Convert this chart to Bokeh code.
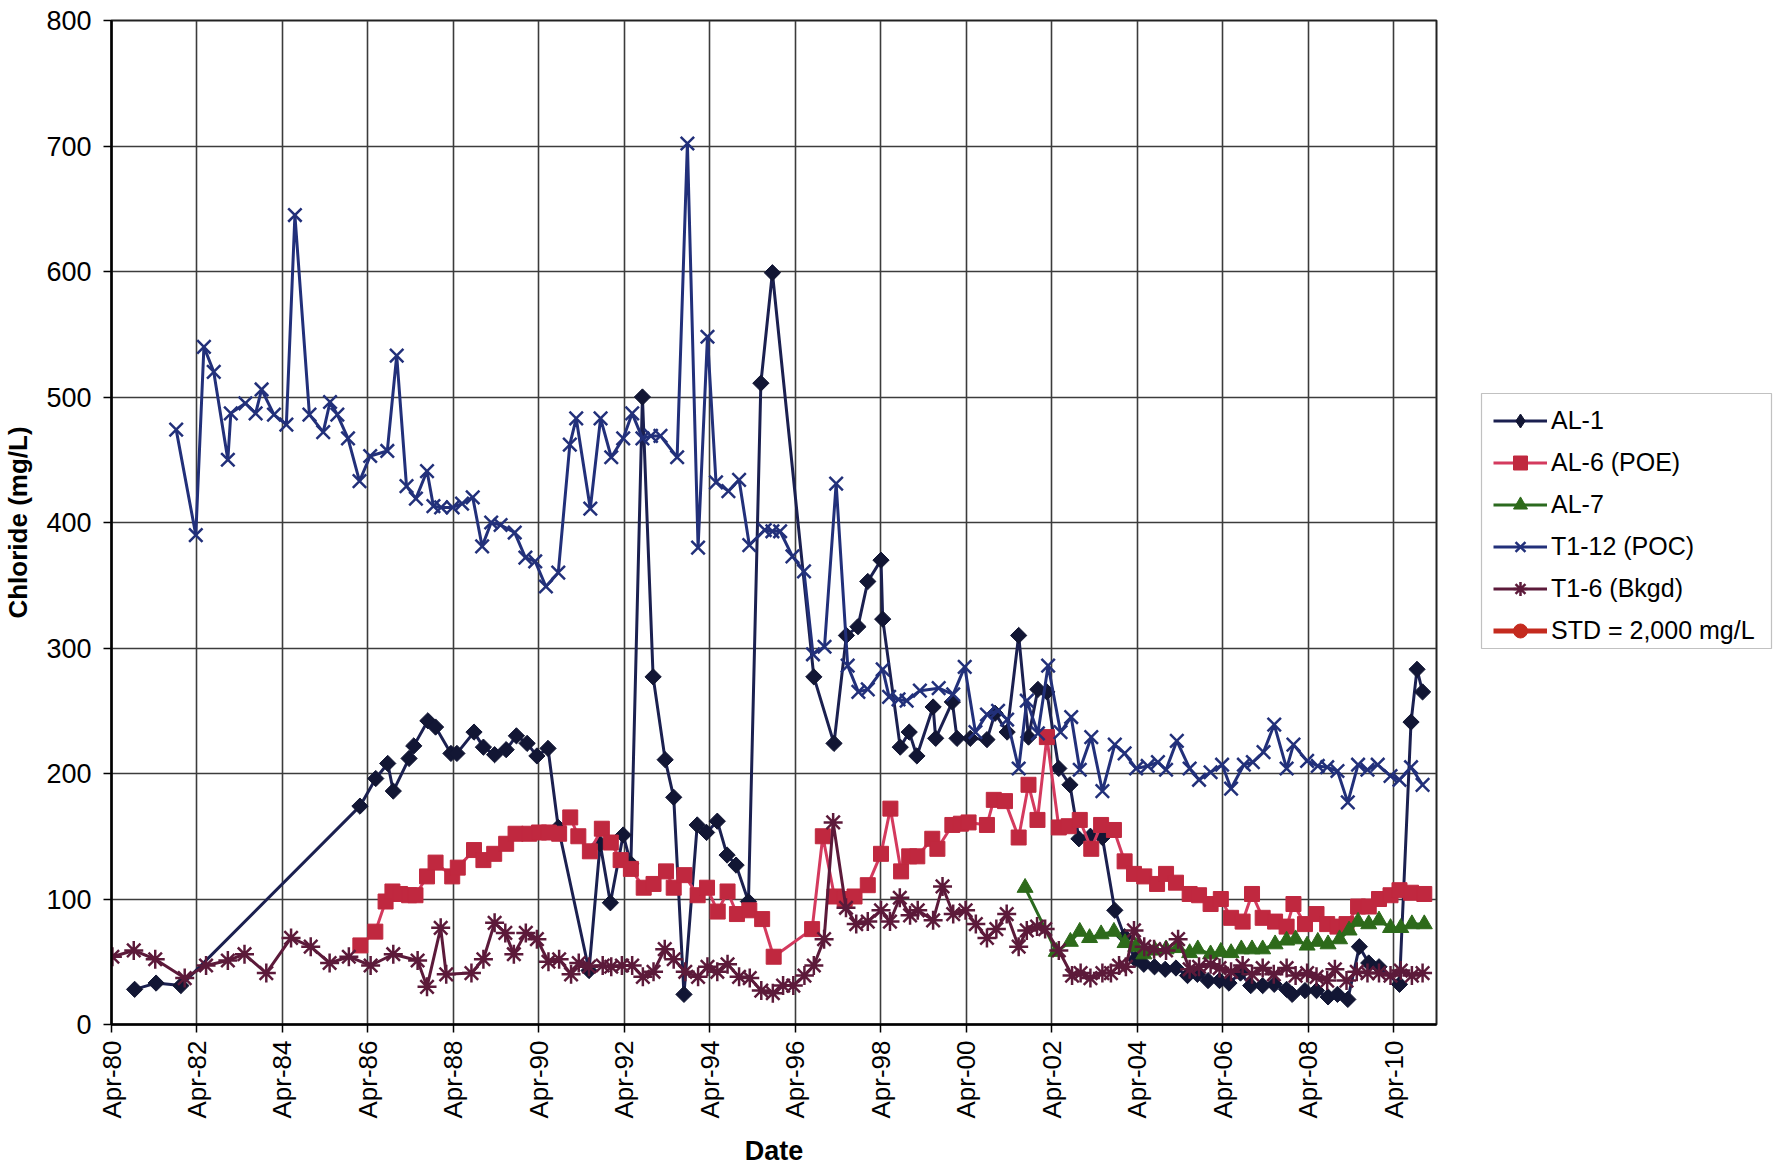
import math
from datetime import datetime, timedelta

from bokeh.plotting import figure
from bokeh.layouts import row
from bokeh.models import (Range1d, FixedTicker, DatetimeTickFormatter, Legend,
                          LegendItem, ColumnDataSource, BoxAnnotation)
from bokeh.embed import file_html
from bokeh.resources import INLINE

# ---- data: sampling date (decimal year) and chloride (mg/L) ----
al1_year = [1980.79, 1981.29, 1981.87, 1986.06, 1986.43, 1986.71, 1986.84, 1987.21,
            1987.32, 1987.65, 1987.83, 1988.19, 1988.33, 1988.73, 1988.95, 1989.21,
            1989.48, 1989.72, 1989.97, 1990.20, 1990.46, 1990.70, 1991.42, 1991.68,
            1991.92, 1992.22, 1992.40, 1992.67, 1992.92, 1993.20, 1993.40, 1993.64,
            1993.95, 1994.17, 1994.42, 1994.65, 1994.86, 1995.15, 1995.44, 1995.71,
            1996.68, 1997.15, 1997.44, 1997.71, 1997.94, 1998.25, 1998.29, 1998.70,
            1998.91, 1999.09, 1999.47, 1999.53, 1999.92, 2000.03, 2000.34, 2000.73,
            2000.92, 2001.20, 2001.47, 2001.70, 2001.92, 2002.13, 2002.41, 2002.67,
            2002.88, 2003.15, 2003.43, 2003.72, 2003.95, 2004.20, 2004.40, 2004.65,
            2004.90, 2005.15, 2005.42, 2005.65, 2005.90, 2006.17, 2006.39, 2006.66,
            2006.90, 2007.18, 2007.45, 2007.74, 2007.87, 2008.17, 2008.44, 2008.71,
            2008.93, 2009.17, 2009.44, 2009.66, 2009.90, 2010.38, 2010.65, 2010.79,
            2010.92]
al1_cl = [28, 33, 31, 174, 196, 208, 186, 212,
          222, 242, 237, 216, 216, 233, 221, 215,
          219, 230, 224, 214, 220, 157, 43, 144,
          97, 151, 128, 500, 277, 211, 181, 24,
          159, 153, 162, 135, 127, 98, 511, 599,
          277, 224, 310, 317, 353, 370, 323, 221,
          233, 214, 253, 228, 257, 228, 228, 227,
          248, 233, 310, 229, 267, 265, 204, 191,
          148, 150, 149, 91, 70, 52, 48, 46,
          44, 45, 39, 40, 35, 35, 33, 41,
          31, 31, 32, 28, 24, 27, 27, 22,
          24, 20, 62, 49, 46, 32, 241, 283,
          265]

al6_year = [1986.07, 1986.42, 1986.66, 1986.82, 1987.00, 1987.21, 1987.36, 1987.63,
            1987.83, 1988.22, 1988.35, 1988.73, 1988.95, 1989.20, 1989.48, 1989.70,
            1990.02, 1990.25, 1990.48, 1990.72, 1990.98, 1991.17, 1991.44, 1991.72,
            1991.93, 1992.16, 1992.40, 1992.70, 1992.93, 1993.22, 1993.40, 1993.65,
            1993.96, 1994.18, 1994.43, 1994.66, 1994.88, 1995.17, 1995.47, 1995.74,
            1996.64, 1996.89, 1997.16, 1997.40, 1997.63, 1997.94, 1998.25, 1998.47,
            1998.72, 1998.91, 1999.10, 1999.45, 1999.57, 1999.92, 2000.12, 2000.30,
            2000.73, 2000.89, 2001.15, 2001.47, 2001.70, 2001.91, 2002.13, 2002.41,
            2002.64, 2002.90, 2003.17, 2003.40, 2003.70, 2003.95, 2004.17, 2004.41,
            2004.71, 2004.92, 2005.15, 2005.47, 2005.69, 2005.96, 2006.20, 2006.44,
            2006.71, 2006.93, 2007.18, 2007.47, 2007.74, 2007.90, 2008.17, 2008.44,
            2008.69, 2008.93, 2009.14, 2009.41, 2009.66, 2009.90, 2010.17, 2010.38,
            2010.65, 2010.96]
al6_cl = [63, 74, 98, 106, 104, 103, 103, 118,
          129, 118, 125, 139, 131, 136, 144, 152,
          152, 153, 153, 152, 165, 150, 138, 156,
          145, 131, 124, 109, 112, 122, 109, 119,
          103, 109, 90, 106, 88, 91, 84, 54,
          76, 150, 102, 100, 102, 111, 136, 172,
          122, 134, 134, 148, 140, 159, 160, 161,
          159, 179, 178, 149, 191, 163, 229, 157,
          158, 163, 140, 159, 155, 130, 120, 118,
          112, 120, 113, 104, 103, 96, 100, 85,
          82, 104, 85, 82, 78, 96, 80, 88,
          80, 78, 80, 94, 94, 100, 103, 107,
          105, 104]

al7_year = [2001.62, 2002.35, 2002.68, 2002.90, 2003.13, 2003.40, 2003.70, 2003.96,
            2004.21, 2004.40, 2004.66, 2004.92, 2005.20, 2005.47, 2005.66, 2005.96,
            2006.20, 2006.44, 2006.68, 2006.93, 2007.18, 2007.47, 2007.74, 2007.95,
            2008.22, 2008.47, 2008.71, 2008.98, 2009.20, 2009.41, 2009.66, 2009.90,
            2010.17, 2010.41, 2010.67, 2010.96]
al7_cl = [109, 58, 66, 74, 69, 72, 74, 65,
          62, 56, 59, 60, 61, 57, 60, 56,
          58, 57, 60, 60, 60, 64, 67, 68,
          63, 66, 64, 68, 75, 82, 80, 83,
          77, 77, 80, 80]

t112_year = [1981.76, 1982.22, 1982.41, 1982.64, 1982.97, 1983.04, 1983.38, 1983.62,
             1983.76, 1984.05, 1984.34, 1984.54, 1984.88, 1985.20, 1985.36, 1985.53,
             1985.78, 1986.05, 1986.30, 1986.70, 1986.92, 1987.15, 1987.37, 1987.63,
             1987.78, 1987.96, 1988.23, 1988.45, 1988.70, 1988.92, 1989.13, 1989.35,
             1989.68, 1989.93, 1990.16, 1990.41, 1990.70, 1990.97, 1991.12, 1991.45,
             1991.69, 1991.94, 1992.22, 1992.43, 1992.67, 1992.87, 1993.09, 1993.48,
             1993.72, 1993.97, 1994.19, 1994.39, 1994.68, 1994.93, 1995.17, 1995.53,
             1995.71, 1995.89, 1996.18, 1996.45, 1996.66, 1996.93, 1997.20, 1997.47,
             1997.72, 1997.94, 1998.29, 1998.44, 1998.66, 1998.85, 1999.16, 1999.60,
             1999.94, 2000.21, 2000.46, 2000.73, 2000.99, 2001.20, 2001.47, 2001.66,
             2001.92, 2002.16, 2002.45, 2002.70, 2002.90, 2003.17, 2003.43, 2003.72,
             2003.95, 2004.22, 2004.49, 2004.73, 2004.92, 2005.17, 2005.47, 2005.69,
             2005.96, 2006.23, 2006.44, 2006.74, 2006.95, 2007.20, 2007.45, 2007.74,
             2007.90, 2008.22, 2008.47, 2008.69, 2008.93, 2009.17, 2009.41, 2009.63,
             2009.87, 2010.17, 2010.38, 2010.65, 2010.92]
t112_cl = [474, 390, 540, 520, 450, 487, 495, 487,
           506, 486, 478, 645, 486, 472, 496, 486,
           467, 433, 453, 457, 533, 429, 419, 441,
           413, 412, 412, 415, 420, 381, 400, 398,
           392, 372, 369, 349, 360, 462, 483, 411,
           483, 452, 467, 487, 467, 469, 469, 452,
           702, 380, 548, 432, 425, 434, 382, 394,
           393, 393, 373, 361, 295, 301, 431, 286,
           265, 267, 283, 261, 259, 258, 266, 268,
           263, 285, 233, 247, 250, 243, 204, 258,
           232, 286, 233, 245, 203, 229, 186, 223,
           216, 204, 206, 209, 203, 226, 204, 195,
           201, 207, 188, 207, 209, 217, 239, 204,
           223, 210, 206, 205, 202, 177, 207, 203,
           207, 198, 195, 205, 191]

t16_year = [1980.27, 1980.77, 1981.27, 1981.96, 1982.46, 1982.97, 1983.36, 1983.87,
            1984.45, 1984.91, 1985.35, 1985.80, 1986.31, 1986.84, 1987.41, 1987.63,
            1987.95, 1988.08, 1988.67, 1988.95, 1989.21, 1989.46, 1989.66, 1989.94,
            1990.20, 1990.47, 1990.72, 1991.00, 1991.18, 1991.42, 1991.74, 1991.94,
            1992.19, 1992.43, 1992.68, 1992.93, 1993.19, 1993.40, 1993.67, 1993.97,
            1994.19, 1994.42, 1994.66, 1994.93, 1995.18, 1995.45, 1995.72, 1995.96,
            1996.20, 1996.46, 1996.68, 1996.92, 1997.13, 1997.43, 1997.67, 1997.94,
            1998.25, 1998.46, 1998.69, 1998.93, 1999.11, 1999.47, 1999.69, 1999.94,
            2000.23, 2000.47, 2000.73, 2000.95, 2001.19, 2001.47, 2001.66, 2001.90,
            2002.09, 2002.41, 2002.72, 2002.92, 2003.15, 2003.43, 2003.63, 2003.82,
            2003.98, 2004.17, 2004.41, 2004.64, 2004.92, 2005.20, 2005.47, 2005.69,
            2005.96, 2006.17, 2006.44, 2006.71, 2006.93, 2007.18, 2007.44, 2007.74,
            2007.95, 2008.22, 2008.44, 2008.69, 2008.87, 2009.14, 2009.38, 2009.63,
            2009.90, 2010.17, 2010.41, 2010.67, 2010.92]
t16_cl = [54, 59, 52, 37, 47, 51, 56, 41,
          69, 62, 49, 54, 47, 56, 51, 30,
          77, 40, 41, 52, 81, 73, 56, 73,
          68, 50, 52, 40, 49, 46, 47, 46,
          47, 47, 38, 42, 60, 52, 42, 38,
          46, 42, 48, 38, 37, 27, 25, 31,
          31, 39, 47, 68, 161, 93, 80, 82,
          91, 82, 101, 87, 91, 83, 110, 88,
          91, 80, 69, 76, 88, 62, 75, 78,
          76, 59, 39, 41, 37, 41, 41, 47,
          46, 75, 62, 60, 59, 68, 44, 46,
          48, 45, 42, 47, 40, 45, 40, 45,
          39, 41, 38, 35, 44, 35, 42, 41,
          41, 39, 43, 39, 41]

# regulatory standard, far above the plotted range
std_year = [1980.25, 2011.25]
std_cl = [2000, 2000]

series_names = ["AL-1", "AL-6 (POE)", "AL-7", "T1-12 (POC)", "T1-6 (Bkgd)",
                "STD = 2,000 mg/L"]
tick_years = list(range(1980, 2011, 2))
y_ticks = list(range(0, 801, 100))

FONT = "Liberation Sans"
LW = 3

# per-series styling: line colour, marker, size, fill, marker outline width
styles = {
    "AL-1": dict(line="#1b2050", marker="square", angle=math.pi / 4, size=11.5,
                 fill="#121634", mlw=1),
    "AL-6 (POE)": dict(line="#d43a5e", marker="square", angle=0, size=15,
                       fill="#c0283f", mlw=1),
    "AL-7": dict(line="#2b6a1f", marker="triangle", angle=0, size=16,
                 fill="#2d6a1a", mlw=1),
    "T1-12 (POC)": dict(line="#22307a", marker="x", angle=0, size=19,
                        fill=None, mlw=2.5),
    "T1-6 (Bkgd)": dict(line="#5c1a3a", marker="asterisk", angle=0, size=19,
                        fill=None, mlw=2.5),
    "STD = 2,000 mg/L": dict(line="#c42a1e", marker="circle", angle=0, size=14,
                             fill="#c42a1e", mlw=1),
}


def to_date(y):
    yr = int(y)
    return datetime(yr, 1, 1) + timedelta(days=(y - yr) * 365.25)


def src(years, values):
    return ColumnDataSource(dict(x=[to_date(v) for v in years], y=values))


epoch = datetime(1970, 1, 1)
tick_ms = [(datetime(y, 4, 1) - epoch).total_seconds() * 1000.0 for y in tick_years]

TOP, BOTTOM = 20, 144
HEIGHT = 1168

p = figure(width=1438, height=HEIGHT, x_axis_type="datetime",
           x_range=Range1d(datetime(1980, 4, 1), datetime(2011, 4, 1)),
           y_range=Range1d(0, 800),
           output_backend="svg", toolbar_location=None,
           min_border_left=111, min_border_right=2,
           min_border_top=TOP, min_border_bottom=BOTTOM,
           background_fill_color="white", border_fill_color="white")

p.outline_line_color = "#222222"
p.outline_line_width = 2

# axes
p.xaxis.ticker = FixedTicker(ticks=tick_ms)
fmt = "%b-%y"
p.xaxis.formatter = DatetimeTickFormatter(years=fmt, months=fmt, days=fmt, hours=fmt,
                                          minutes=fmt, seconds=fmt, milliseconds=fmt,
                                          microseconds=fmt, hourmin=fmt, minsec=fmt)
p.xaxis.major_label_orientation = math.pi / 2
p.yaxis.ticker = FixedTicker(ticks=y_ticks)
p.xaxis.axis_label = "Date"
p.yaxis.axis_label = "Chloride (mg/L)"

for ax in (p.xaxis, p.yaxis):
    ax.axis_line_color = "black"
    ax.axis_line_width = 2.5
    ax.major_tick_line_color = "black"
    ax.major_tick_line_width = 1.5
    ax.major_tick_in = 0
    ax.major_tick_out = 8
    ax.minor_tick_line_color = None
    ax.major_label_text_font = FONT
    ax.major_label_text_color = "black"
    ax.axis_label_text_font = FONT
    ax.axis_label_text_font_style = "bold"
    ax.axis_label_text_color = "black"

p.yaxis.major_label_text_font_size = "27px"
p.xaxis.major_label_text_font_size = "26px"
p.yaxis.axis_label_text_font_size = "26px"
p.xaxis.axis_label_text_font_size = "27px"
p.yaxis.major_label_standoff = 12
p.xaxis.major_label_standoff = 8
p.yaxis.axis_label_standoff = 10
p.xaxis.axis_label_standoff = 14

for g in (p.xgrid, p.ygrid):
    g.grid_line_color = "#3c3c3c"
    g.grid_line_width = 1.6
p.xgrid.ticker = FixedTicker(ticks=tick_ms)
p.ygrid.ticker = FixedTicker(ticks=y_ticks)


def draw(fig, name, source):
    st = styles[name]
    ln = fig.line("x", "y", source=source, line_color=st["line"],
                  line_width=5 if name.startswith("STD") else LW)
    pts = fig.scatter("x", "y", source=source, marker=st["marker"], angle=st["angle"],
                      size=st["size"], fill_color=st["fill"], line_color=st["line"]
                      if st["fill"] is None else st["fill"], line_width=st["mlw"])
    return ln, pts


series = [(al1_year, al1_cl), (al6_year, al6_cl), (al7_year, al7_cl),
          (t112_year, t112_cl), (t16_year, t16_cl), (std_year, std_cl)]
for name, (yrs, vals) in zip(series_names, series):
    draw(p, name, src(yrs, vals))

# ---- legend panel to the right of the chart ----
LF_W = 335
lf = figure(width=LF_W, height=HEIGHT, x_range=Range1d(0, 1), y_range=Range1d(0, 1),
            x_axis_location=None, y_axis_location=None,
            output_backend="svg", toolbar_location=None, min_border=0,
            background_fill_color="white", border_fill_color="white")
lf.outline_line_color = None
lf.xgrid.visible = False
lf.ygrid.visible = False

items = []
for name in series_names:
    key_src = ColumnDataSource(dict(x=[2.0, 3.0], y=[2.0, 2.0]))
    if name == "AL-1":
        ln = lf.line("x", "y", source=key_src, line_color=styles[name]["line"],
                     line_width=LW)
        pts = lf.scatter("x", "y", source=key_src, marker="diamond", size=14,
                         fill_color="#121634", line_color="#121634")
    else:
        ln, pts = draw(lf, name, key_src)
    items.append(LegendItem(label=name, renderers=[ln, pts]))

# legend geometry (pixels); the frame of this panel lines up with the chart frame
PAD, ROW_H, GAP, N = 5, 35, 7, len(series_names)
leg_h = 2 * PAD + N * ROW_H + (N - 1) * GAP
box_left, box_right = 43, 333
box_top_from_frame = 373            # distance of the box top below the frame top
frame_h = HEIGHT - TOP - BOTTOM
box_bottom_y = frame_h - box_top_from_frame - leg_h

lf.add_layout(BoxAnnotation(left=box_left / LF_W, right=box_right / LF_W,
                            bottom=box_bottom_y / frame_h,
                            top=(box_bottom_y + leg_h) / frame_h,
                            fill_color="white", fill_alpha=1.0,
                            line_color="#333333", line_width=1.2, level="underlay"))

legend = Legend(items=items, location=(box_left + 12, box_bottom_y),
                orientation="vertical",
                label_text_font=FONT, label_text_font_size="25px",
                label_text_color="black", border_line_color=None,
                background_fill_alpha=0.0, padding=PAD, spacing=GAP, margin=0,
                glyph_width=54, glyph_height=ROW_H, label_height=ROW_H,
                label_standoff=4, label_width=208)
lf.add_layout(legend, "center")

layout = row(p, lf, spacing=0)
open("out.html", "w").write(file_html(layout, INLINE))
